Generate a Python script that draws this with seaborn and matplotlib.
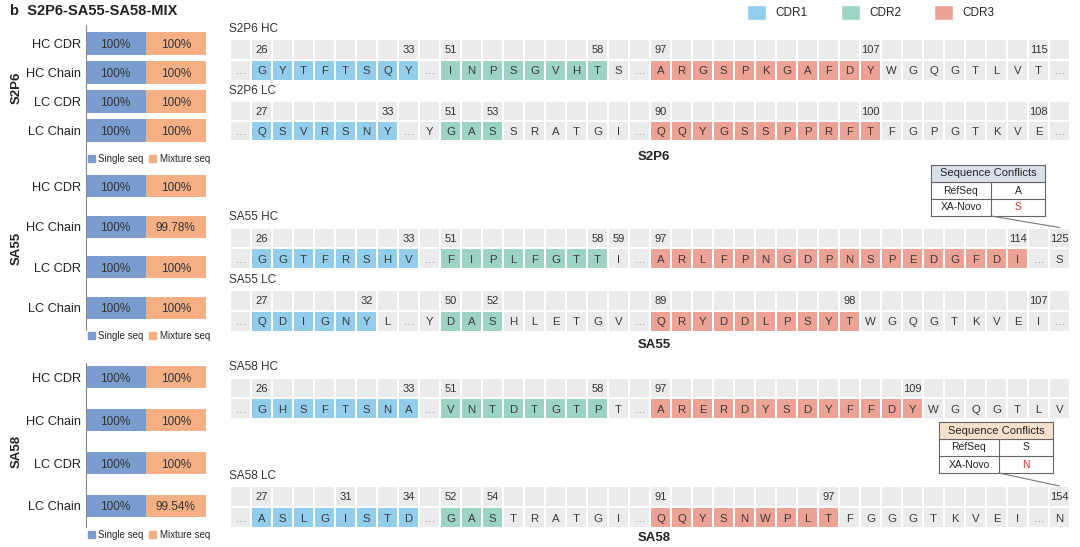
import numpy as np
import pandas as pd
import matplotlib
matplotlib.use("Agg")
import matplotlib.pyplot as plt
import seaborn as sns
from matplotlib.colors import ListedColormap
from matplotlib.patches import Patch, ConnectionPatch

sns.set_theme(style="white")
plt.rcParams["font.family"] = ["Liberation Sans", "DejaVu Sans"]

W, H = 1080, 547

# ---- recovery rates (left bars) ----
metrics = ["HC CDR", "HC Chain", "LC CDR", "LC Chain"]
single_s2p6 = [100, 100, 100, 100]
mixture_s2p6 = [100, 100, 100, 100]
single_sa55 = [100, 100, 100, 100]
mixture_sa55 = [100, 99.78, 100, 100]
single_sa58 = [100, 100, 100, 100]
mixture_sa58 = [100, 100, 100, 99.54]

# ---- sequences: (residues, region) 0 = framework, 1/2/3 = CDR1/2/3, "." = skipped stretch ----
s2p6_hc = [(".", 0), ("GYTFTSQY", 1), (".", 0), ("INPSGVHT", 2), ("S.", 0),
           ("ARGSPKGAFDY", 3), ("WGQGTLVT.", 0)]
s2p6_hc_num = {1: 26, 8: 33, 10: 51, 17: 58, 20: 97, 30: 107, 38: 115}
s2p6_lc = [(".", 0), ("QSVRSNY", 1), (".Y", 0), ("GAS", 2), ("SRATGI.", 0),
           ("QQYGSSPPRFT", 3), ("FGPGTKVE.", 0)]
s2p6_lc_num = {1: 27, 7: 33, 10: 51, 12: 53, 20: 90, 30: 100, 38: 108}

sa55_hc = [(".", 0), ("GGTFRSHV", 1), (".", 0), ("FIPLFGTT", 2), ("I.", 0),
           ("ARLFPNGDPNSPEDGFDI", 3), (".S", 0)]
sa55_hc_num = {1: 26, 8: 33, 10: 51, 17: 58, 18: 59, 20: 97, 37: 114, 39: 125}
sa55_lc = [(".", 0), ("QDIGNY", 1), ("L.Y", 0), ("DAS", 2), ("HLETGV.", 0),
           ("QRYDDLPSYT", 3), ("WGQGTKVEI.", 0)]
sa55_lc_num = {1: 27, 6: 32, 10: 50, 12: 52, 20: 89, 29: 98, 38: 107}

sa58_hc = [(".", 0), ("GHSFTSNA", 1), (".", 0), ("VNTDTGTP", 2), ("T.", 0),
           ("ARERDYSDYFFDY", 3), ("WGQGTLV", 0)]
sa58_hc_num = {1: 26, 8: 33, 10: 51, 17: 58, 20: 97, 32: 109}
sa58_lc = [(".", 0), ("ASLGISTD", 1), (".", 0), ("GAS", 2), ("TRATGI.", 0),
           ("QQYSNWPLT", 3), ("FGGGTKVEI.N", 0)]
sa58_lc_num = {1: 27, 5: 31, 8: 34, 10: 52, 12: 54, 20: 91, 28: 97, 39: 154}

cdr_names = ["CDR1", "CDR2", "CDR3"]
conflict_sa55 = ("A", "S")   # RefSeq, XA-Novo at SA55 HC 125
conflict_sa58 = ("S", "N")   # RefSeq, XA-Novo at SA58 LC 154

# ---- colours ----
c_single = "#7B9CCF"
c_mix = "#F4B084"
c_grey = "#EBEBEB"
c_cdr = ["#92CDEC", "#9CD3C5", "#ECA294"]

fig = plt.figure(figsize=(W / 100, H / 100), dpi=100)


def px_axes(x0, y0, x1, y1):
    return fig.add_axes([x0 / W, 1 - y1 / H, (x1 - x0) / W, (y1 - y0) / H])


fig.text(10 / W, 1 - 11 / H, "b  S2P6-SA55-SA58-MIX", fontsize=10.5,
         fontweight="bold", va="center", color="#222222")

# ---- left: stacked bars ----
# name, single, mixture, axes top/bottom px, first bar centre px, step px, bar height px, legend y px, label y px
bar_panels = [
    ("S2P6", single_s2p6, mixture_s2p6, 25, 170, 43.5, 29.0, 23, 159, 88),
    ("SA55", single_sa55, mixture_sa55, 167, 330, 186, 40.5, 22, 336, 248),
    ("SA58", single_sa58, mixture_sa58, 363, 527, 377.5, 42.8, 22, 535, 452),
]
bx0, bx1 = 85.5, 206
for name, single, mix, top, bot, c0, step, bh, leg_y, lab_y in bar_panels:
    ax = px_axes(bx0, top, bx1, bot)
    df = pd.DataFrame({"metric": metrics, "single": single,
                       "total": np.add(single, mix)})
    sns.barplot(data=df, x="total", y="metric", color=c_mix, saturation=1,
                width=bh / step, errorbar=None, linewidth=0, ax=ax)
    sns.barplot(data=df, x="single", y="metric", color=c_single, saturation=1,
                width=bh / step, errorbar=None, linewidth=0, ax=ax)
    ax.set_xlim(0, 200)
    ax.set_ylim((bot - c0) / step, (top - c0) / step)
    for i, (s, m) in enumerate(zip(single, mix)):
        ax.text(s / 2, i, f"{s:g}%", ha="center", va="center_baseline", fontsize=8.5, color="#333333")
        ax.text(s + m / 2, i, f"{m:g}%", ha="center", va="center_baseline", fontsize=8.5, color="#333333")
    ax.set_xticks([])
    ax.set_xlabel("")
    ax.set_ylabel(name, fontsize=9.5, fontweight="bold", color="#222222")
    ax.yaxis.set_label_coords((23 - bx0) / (bx1 - bx0), 1 - (lab_y - top) / (bot - top))
    ax.tick_params(axis="y", length=0, pad=3, labelsize=9.2, labelcolor="#222222")
    for sp in ["top", "right", "bottom"]:
        ax.spines[sp].set_visible(False)
    ax.spines["left"].set_color("#8A8A8A")
    ax.spines["left"].set_linewidth(0.8)
    ax.legend(handles=[Patch(color=c_single, label="Single seq"),
                       Patch(color=c_mix, label="Mixture seq")],
              loc="center left", bbox_to_anchor=(0.02, 1 - (leg_y - top) / (bot - top)),
              ncol=2, frameon=False, fontsize=7, handlelength=0.7, handleheight=0.7,
              handletextpad=0.35, columnspacing=0.6, borderpad=0, borderaxespad=0)

# ---- right: sequence grids ----
cmap = ListedColormap([c_grey] + c_cdr)
seq_blocks = [
    ("S2P6 HC", s2p6_hc, s2p6_hc_num, 38.5, 80.5),
    ("S2P6 LC", s2p6_lc, s2p6_lc_num, 100.5, 141),
    ("SA55 HC", sa55_hc, sa55_hc_num, 227.5, 269),
    ("SA55 LC", sa55_lc, sa55_lc_num, 290, 331.5),
    ("SA58 HC", sa58_hc, sa58_hc_num, 377.5, 419),
    ("SA58 LC", sa58_lc, sa58_lc_num, 486, 528),
]
grid_axes = {}
for name, segs, nums, top, bot in seq_blocks:
    letters = "".join(s for s, _ in segs)
    regions = [r for s, r in segs for _ in s]
    grid = np.vstack([np.zeros(len(regions)), regions])
    ax = px_axes(230, top, 1070, bot)
    sns.heatmap(grid, ax=ax, cmap=cmap, vmin=-0.5, vmax=3.5, cbar=False,
                linewidths=1.2, linecolor="white", xticklabels=False, yticklabels=False)
    for i, ch in enumerate(letters):
        if ch == ".":
            ax.text(i + 0.5, 1.55, "\u2026", ha="center", va="center", fontsize=7.5, color="#777777")
        else:
            ax.text(i + 0.5, 1.5, ch, ha="center", va="center_baseline", fontsize=8.2, color="#3A3A3A")
    for idx, num in nums.items():
        ax.text(idx + 0.5, 0.5, str(num), ha="center", va="center_baseline", fontsize=8, color="#333333")
    fig.text(229 / W, 1 - (top - 10) / H, name, fontsize=8.5, va="center", color="#333333")
    grid_axes[name] = ax

for lab, y in [("S2P6", 157), ("SA55", 345), ("SA58", 538)]:
    fig.text(654 / W, 1 - y / H, lab, fontsize=9.5, fontweight="bold",
             ha="center", va="center", color="#222222")

fig.legend(handles=[Patch(facecolor=c, label=n) for c, n in zip(c_cdr, cdr_names)],
           loc="center", bbox_to_anchor=(871 / W, 1 - 12.5 / H), ncol=3, frameon=False,
           fontsize=8.5, handlelength=1.6, handleheight=1.6, handletextpad=0.8,
           columnspacing=2.8, borderpad=0)

# ---- sequence conflict tables ----
conf_boxes = [
    ("SA55 HC", (931, 165, 1045, 216), "#D9E0E8", conflict_sa55),
    ("SA58 LC", (939, 422, 1053, 473), "#F7E1CC", conflict_sa58),
]
split = 0.526
for block, (x0, y0, x1, y1), head, (ref, novo) in conf_boxes:
    tax = px_axes(x0, y0, x1, y1)
    tax.set_xlim(0, 1)
    tax.set_ylim(0, 3)
    tax.axhspan(2, 3, color=head, zorder=0)
    tax.axhline(1, color="#666666", lw=0.8)
    tax.axhline(2, color="#666666", lw=0.8)
    tax.plot([split, split], [0, 2], color="#666666", lw=0.8)
    tax.text(0.5, 2.5, "Sequence Conflicts", ha="center", va="center", fontsize=8, color="#222222")
    tax.text(split / 2, 1.5, "RefSeq", ha="center", va="center", fontsize=7.5, color="#222222")
    tax.text((1 + split) / 2, 1.5, ref, ha="center", va="center", fontsize=7.5, color="#222222")
    tax.text(split / 2, 0.5, "XA-Novo", ha="center", va="center", fontsize=7.5, color="#222222")
    tax.text((1 + split) / 2, 0.5, novo, ha="center", va="center", fontsize=7.5, color="#E52A2A")
    tax.set_xticks([])
    tax.set_yticks([])
    for sp in tax.spines.values():
        sp.set_visible(True)
        sp.set_color("#666666")
        sp.set_linewidth(0.8)
    con = ConnectionPatch(xyA=(split, 0), coordsA=tax.transData,
                          xyB=(39.5, 0), coordsB=grid_axes[block].transData,
                          color="#777777", lw=0.8)
    fig.add_artist(con)

fig.savefig("out.png", dpi=100)
